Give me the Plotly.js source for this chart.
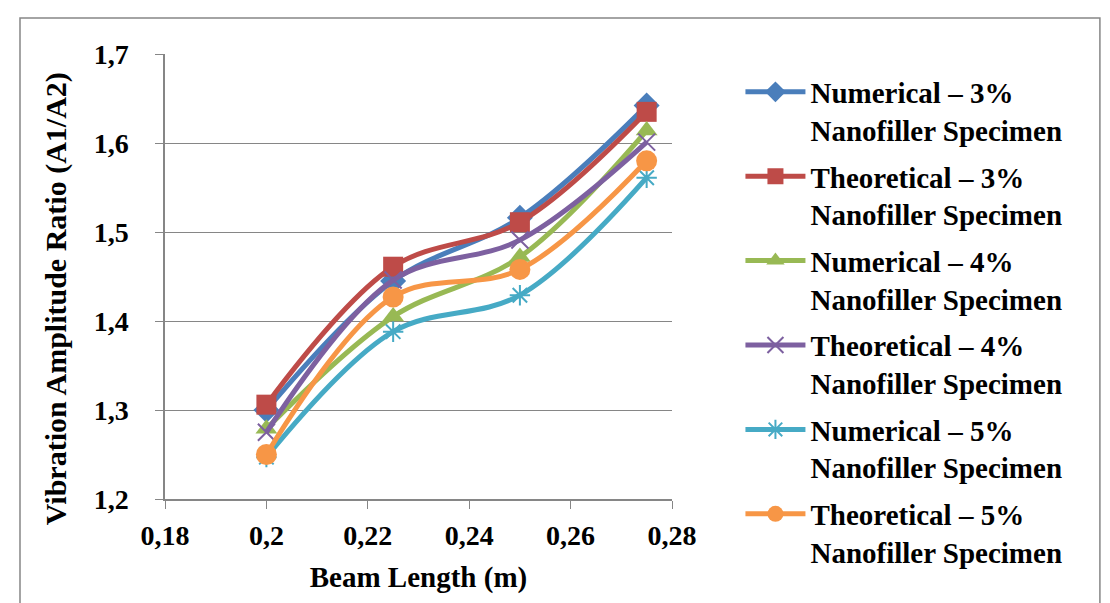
<!DOCTYPE html>
<html>
<head>
<meta charset="utf-8">
<script src="https://cdn.plot.ly/plotly-3.0.1.min.js"></script>
<style>
  body { margin: 0; background: #fff; }
  #myDiv { width: 1110px; height: 603px; }
</style>
</head>
<body>
<div id="myDiv"></div>
<script>
const beamLength = [0.2, 0.225, 0.25, 0.275]

const num3 = [1.300, 1.445, 1.516, 1.642]
const theo3 = [1.306, 1.461, 1.511, 1.635]
const num4 = [1.279, 1.405, 1.472, 1.614]
const theo4 = [1.275, 1.446, 1.491, 1.601]
const num5 = [1.247, 1.388, 1.429, 1.561]
const theo5 = [1.250, 1.427, 1.458, 1.580]

const names = [
  "Numerical – 3%<br>Nanofiller Specimen",
  "Theoretical – 3%<br>Nanofiller Specimen",
  "Numerical – 4%<br>Nanofiller Specimen",
  "Theoretical – 4%<br>Nanofiller Specimen",
  "Numerical – 5%<br>Nanofiller Specimen",
  "Theoretical – 5%<br>Nanofiller Specimen",
]
const colors = ["#4a7ebb", "#be4b48", "#98b954", "#7d60a0", "#46aac5", "#f79646"]
const symbols = ["diamond", "square", "triangle-up", "x-thin-open", "asterisk-open", "circle"]
const sizes = [20, 20, 19, 17, 17, 21]
const series = [num3, theo3, num4, theo4, num5, theo5]

const data = series.map((ys, i) => {
  const open = symbols[i].indexOf("open") >= 0
  return {
    x: beamLength,
    y: ys,
    name: names[i],
    legendgroup: "g" + i,
    mode: "lines+markers",
    type: "scatter",
    line: { color: colors[i], width: 5, shape: "spline", smoothing: 1 },
    marker: {
      symbol: symbols[i],
      size: sizes[i],
      color: colors[i],
      line: { color: colors[i], width: open ? 2 : 0 },
    },
  }
})

const font = { family: "Liberation Serif, Times New Roman, serif", color: "#000", weight: "bold" }

const layout = {
  width: 1110,
  height: 603,
  separators: ", ",
  paper_bgcolor: "#fff",
  plot_bgcolor: "#fff",
  margin: { l: 165, r: 438, t: 54, b: 104 },
  font: font,
  showlegend: true,
  legend: {
    x: 1.135,
    y: 0.972,
    xanchor: "left",
    yanchor: "top",
    traceorder: "grouped",
    tracegroupgap: 6,
    valign: "top",
    itemwidth: 60,
    maxheight: 600,
    bgcolor: "rgba(0,0,0,0)",
    font: Object.assign({}, font, { size: 29 }),
  },
  xaxis: {
    range: [0.18, 0.28],
    dtick: 0.02,
    tick0: 0.18,
    showgrid: false,
    zeroline: false,
    showline: true,
    linecolor: "#868686",
    linewidth: 1.5,
    ticks: "outside",
    ticklen: 8,
    tickcolor: "#868686",
    ticklabelstandoff: 3,
    tickfont: Object.assign({}, font, { size: 28 }),
    title: { text: "Beam Length (m)", font: Object.assign({}, font, { size: 29 }), standoff: 16 },
  },
  yaxis: {
    range: [1.2, 1.7],
    dtick: 0.1,
    showgrid: true,
    gridcolor: "#868686",
    gridwidth: 1.2,
    zeroline: false,
    showline: true,
    linecolor: "#868686",
    linewidth: 1.5,
    ticks: "outside",
    ticklen: 8,
    tickcolor: "#868686",
    ticklabelstandoff: 21,
    tickfont: Object.assign({}, font, { size: 28 }),
  },
  annotations: [
    {
      text: "Vibration Amplitude Ratio (A1/A2)",
      xref: "paper",
      yref: "paper",
      x: -0.216,
      y: 0.45,
      xanchor: "center",
      yanchor: "middle",
      textangle: -90,
      showarrow: false,
      font: Object.assign({}, font, { size: 30 }),
    },
  ],
  shapes: [
    {
      type: "rect",
      xref: "paper",
      yref: "paper",
      x0: -0.286,
      x1: 1.844,
      y0: -0.3,
      y1: 1.081,
      line: { color: "#868686", width: 1.5 },
      fillcolor: "rgba(0,0,0,0)",
      layer: "above",
    },
  ],
}

Plotly.newPlot("myDiv", data, layout, { displayModeBar: false })
</script>
</body>
</html>
